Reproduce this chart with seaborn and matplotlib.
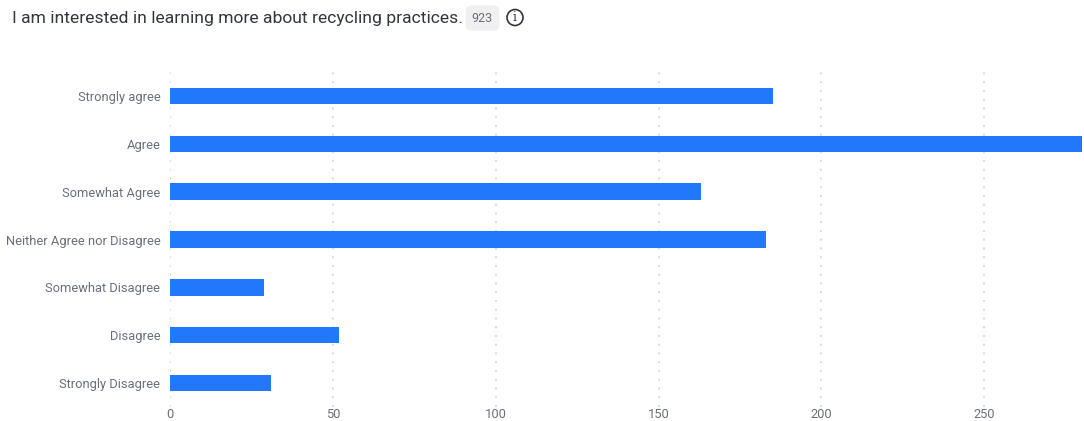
import matplotlib
matplotlib.use("Agg")
import matplotlib.pyplot as plt
from matplotlib.patches import Circle
import pandas as pd
import seaborn as sns

categories = ["Strongly agree", "Agree", "Somewhat Agree", "Neither Agree nor Disagree",
              "Somewhat Disagree", "Disagree", "Strongly Disagree"]
counts = [185, 280, 163, 183, 29, 52, 31]
x_ticks = [0, 50, 100, 150, 200, 250]
title = "I am interested in learning more about recycling practices."
total_label = "923"

W, H = 1084, 421
sns.set_theme(style="white")
plt.rcParams["font.family"] = ["Roboto", "DejaVu Sans"]

fig = plt.figure(figsize=(W / 100, H / 100), dpi=100)
left, right, top, bottom = 170, 1082, 72, 407
ax = fig.add_axes([left / W, 1 - bottom / H, (right - left) / W, (bottom - top) / H])

df = pd.DataFrame({"category": categories, "count": counts})
sns.barplot(data=df, x="count", y="category", color="#2278FB", saturation=1,
            width=0.345, linewidth=0, ax=ax, zorder=3)

ax.set_xlim(0, 280)
ax.set_ylim(len(categories) - 0.5, -0.5)
ax.set_xticks(x_ticks)
ax.set_xlabel("")
ax.set_ylabel("")
ax.grid(axis="x", color="#DADCE0", linestyle=(0, (1, 3.2)), linewidth=1.5, zorder=0)
ax.grid(axis="y", visible=False)
for s in ax.spines.values():
    s.set_visible(False)
ax.tick_params(axis="y", length=0, pad=7, labelsize=9.3, labelcolor="#6A6F7A")
ax.tick_params(axis="x", length=0, pad=1, labelsize=9.3, labelcolor="#6A6F7A")
ax.set_axisbelow(True)

fig.text(12 / W, 1 - 18 / H, title, fontsize=12.6, color="#32363E", va="center", ha="left")
fig.text(482.5 / W, 1 - 18 / H, total_label, fontsize=9, color="#6A6F7A", va="center", ha="center",
         bbox=dict(boxstyle="round,pad=0.5", fc="#F0F0F0", ec="none"))

fig.add_artist(Circle((515, H - 17.5), 8, transform=None, fc="white", ec="#32363E", lw=1.2))
fig.text(515 / W, 1 - 17.5 / H, "i", fontsize=9, color="#32363E", va="center", ha="center",
         family="DejaVu Serif")

fig.savefig("out.png", dpi=100, facecolor="white")
